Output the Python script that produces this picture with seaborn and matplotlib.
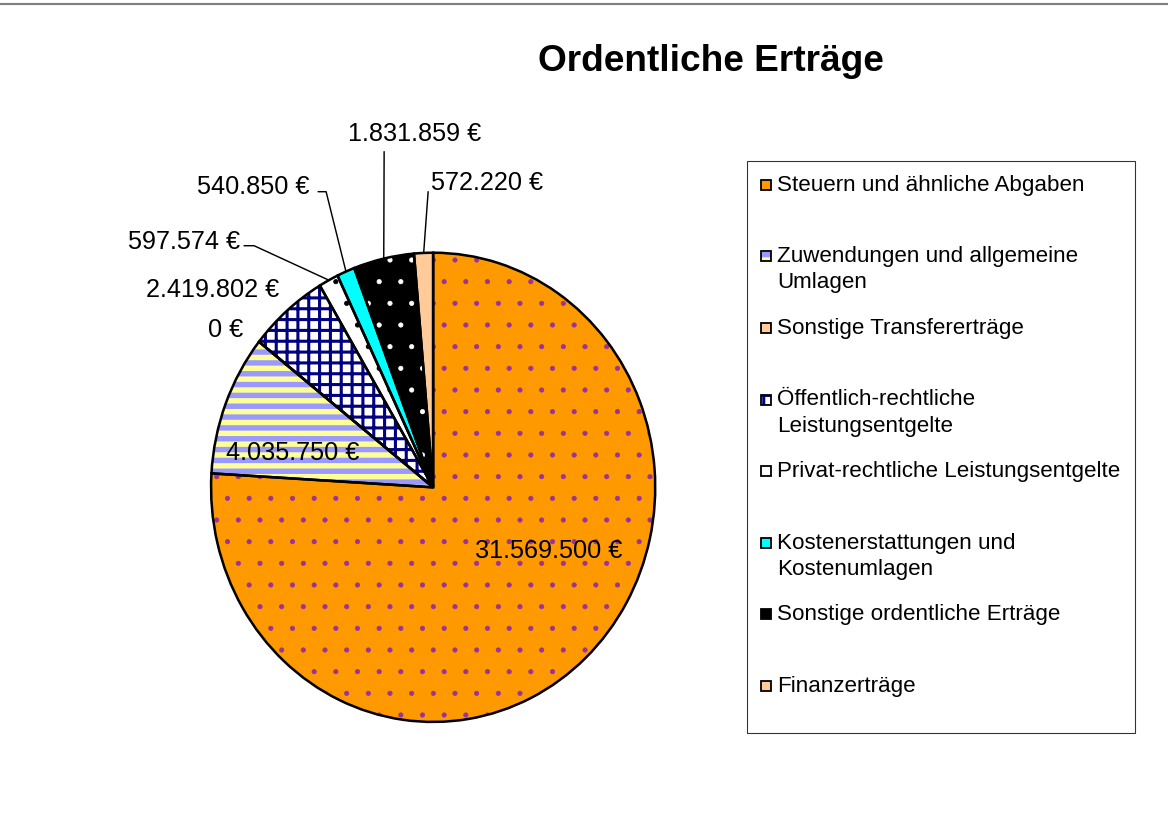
import numpy as np
import matplotlib
matplotlib.use("Agg")
import matplotlib.pyplot as plt
import seaborn as sns
from matplotlib.patches import Rectangle
from matplotlib.lines import Line2D

# ---------------- data ----------------
categories = [
    "Steuern und ähnliche Abgaben",
    "Zuwendungen und allgemeine\nUmlagen",
    "Sonstige Transfererträge",
    "Öffentlich-rechtliche\nLeistungsentgelte",
    "Privat-rechtliche Leistungsentgelte",
    "Kostenerstattungen und\nKostenumlagen",
    "Sonstige ordentliche Erträge",
    "Finanzerträge",
]
values = [31569500, 4035750, 0, 2419802, 597574, 540850, 1831859, 572220]
title = "Ordentliche Erträge"


def euro(v):
    return f"{v:,}".replace(",", ".") + " €"


value_labels = [euro(v) for v in values]

# ---------------- styles ----------------
face_colors = ["#FF9900", "#FFFF99", "#FFCC99", "#FFFFFF", "#FFFFFF", "#00FFFF", "#000000", "#FFCC99"]
hatches = [".", "--", None, "++", ".", None, ".", None]
hatch_colors = ["#993399", "#9999FF", None, "#000080", "#000000", None, "#FFFFFF", None]
hatch_lws = [0.4, 3.0, None, 1.7, 0.4, None, 0.4, None]

# label layout (figure pixel coords, y from top)
label_pos = [(548, 551), (293, 453), (226, 330), (213, 290), (184, 242), (253, 187), (414, 134), (487, 183)]
leader_start = [None, None, None, None, [(244, 246), (254, 246)], [(318, 192), (326, 192)], [(384, 152)], [(428, 192)]]

W, H = 1168, 831
DPI = 130

sns.set_theme(style="white")
plt.rcParams["font.family"] = ["Liberation Sans", "DejaVu Sans"]
plt.rcParams["text.color"] = "black"

fig = plt.figure(figsize=(1168.4 / DPI, 831.4 / DPI), dpi=DPI)
fig.patch.set_facecolor("white")

# pie axes: bounding box of the (slightly elliptical) pie in pixels
px_l, px_r, px_t, px_b = 211, 655, 253, 722
ax = fig.add_axes([px_l / W, 1 - px_b / H, (px_r - px_l) / W, (px_b - px_t) / H])

wedges, _ = ax.pie(values, startangle=90, counterclock=False, radius=1,
                   wedgeprops=dict(linewidth=0))
for w, fc, h, hc, hl in zip(wedges, face_colors, hatches, hatch_colors, hatch_lws):
    w.set_facecolor(fc)
    w.set_clip_on(False)
    if h:
        w.set_edgecolor(hc)
        w.set_hatch(h)
        if hasattr(w, "set_hatch_linewidth"):
            w.set_hatch_linewidth(hl)
    else:
        w.set_edgecolor(fc)
    w.set_linewidth(0)

outl, _ = ax.pie(values, startangle=90, counterclock=False, radius=1,
                 wedgeprops=dict(fill=False, edgecolor="black", linewidth=1.4))
for w in outl:
    w.set_clip_on(False)

ax.set_aspect("auto")
ax.set_xlim(-1, 1)
ax.set_ylim(-1, 1)
ax.axis("off")

LABEL_FS = 14
fig.canvas.draw()
for i, (w, lab) in enumerate(zip(wedges, value_labels)):
    x, y = label_pos[i]
    fig.text(x / W, 1 - y / H, lab, ha="center", va="center", fontsize=LABEL_FS, color="black")
    if leader_start[i] is not None:
        mid = np.deg2rad((w.theta1 + w.theta2) / 2)
        ex, ey = ax.transData.transform((np.cos(mid), np.sin(mid)))
        pts = [(px, H - py) for px, py in leader_start[i]] + [(ex, ey)]
        xs = [p[0] / W for p in pts]
        ys = [p[1] / H for p in pts]
        fig.add_artist(Line2D(xs, ys, color="black", lw=0.8, transform=fig.transFigure))

# title
fig.text(710.5 / W, 1 - 61 / H, title, ha="center", va="center", fontsize=20.5,
         fontweight="bold", color="black")

# top rule
fig.add_artist(Line2D([0, 1], [1 - 4.5 / H, 1 - 4.5 / H], color="#808080", lw=1.2, transform=fig.transFigure))

# legend (manual)
lx0, ly0, lx1, ly1 = 747, 161, 1135, 733
fig.add_artist(Rectangle((lx0 / W, 1 - ly1 / H), (lx1 - lx0) / W, (ly1 - ly0) / H,
                         transform=fig.transFigure, facecolor="white", edgecolor="#333333", lw=0.6))
entry_y0, entry_step, line_gap = 185, 71.6, 26
LEG_FS = 12.4
for i, cat in enumerate(categories):
    ey = entry_y0 + entry_step * i
    r = Rectangle((761 / W, 1 - (ey + 5) / H), 10 / W, 10 / H, transform=fig.transFigure,
                  facecolor=face_colors[i], edgecolor=hatch_colors[i] or "black", lw=0, hatch=hatches[i])
    if hatches[i] and hasattr(r, "set_hatch_linewidth"):
        r.set_hatch_linewidth(hatch_lws[i])
    fig.add_artist(r)
    fig.add_artist(Rectangle((761 / W, 1 - (ey + 5) / H), 10 / W, 10 / H, transform=fig.transFigure,
                             fill=False, edgecolor="black", lw=1.0))
    for k, line in enumerate(cat.split("\n")):
        fig.text(777 / W, 1 - (ey + line_gap * k) / H, line, ha="left", va="center",
                 fontsize=LEG_FS, color="black")

fig.savefig("out.png", dpi=DPI, facecolor="white")
